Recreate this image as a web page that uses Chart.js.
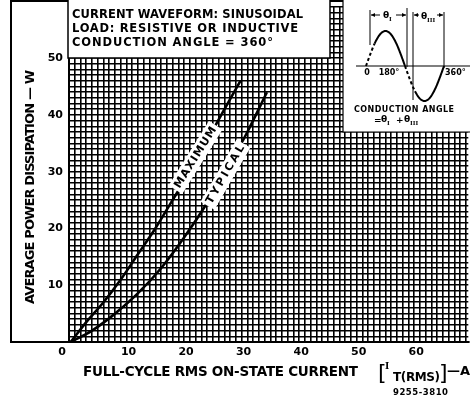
<!DOCTYPE html>
<html>
<head>
<meta charset="utf-8">
<script src="https://cdn.jsdelivr.net/npm/chart.js"></script>
<style>
  html, body { margin: 0; padding: 0; background: #fff; }
  #wrap { width: 470px; height: 402px; }
</style>
</head>
<body>
<div id="wrap"><canvas id="chart" width="470" height="402"></canvas></div>
<script>
// values (A rms, W)
const currentMax = [0.3, 3, 6, 9, 12, 15, 18, 21, 24, 27, 29.8];
const powerMax   = [0, 3.5, 7, 11, 15.5, 20, 25, 30, 35.5, 41, 46];
const currentTyp = [0.3, 4, 8, 12, 16, 20, 24, 28, 31, 34.4];
const powerTyp   = [0, 2, 5, 8.6, 13, 18.4, 24.5, 31.4, 37, 44];

const xTickLabels = [10, 20, 30, 40, 50, 60];
const yTickLabels = [10, 20, 30, 40, 50];
const noteLines = ["CURRENT WAVEFORM: SINUSOIDAL", "LOAD: RESISTIVE OR INDUCTIVE", "CONDUCTION ANGLE = 360°"];

const FONT = "'DejaVu Sans', sans-serif";

// draw text stretched with letter spacing so it covers a given width
function fitText(ctx, text, x, y, width) {
  ctx.letterSpacing = "0px";
  const w = ctx.measureText(text).width;
  const ls = text.length > 1 ? (width - w) / (text.length - 1) : 0;
  ctx.letterSpacing = ls + "px";
  ctx.fillText(text, x, y);
  ctx.letterSpacing = "0px";
}

function theta(ctx, x, y, sub) {
  ctx.font = "bold 9px " + FONT;
  ctx.fillText("θ", x, y);
  ctx.font = "bold 7px 'Liberation Serif', serif";
  ctx.fillText(sub, x + 6, y + 3);
}

const decor = {
  id: "decor",
  afterDraw(chart) {
    const ctx = chart.ctx;
    const xs = chart.scales.x, ys = chart.scales.y;
    ctx.save();
    ctx.fillStyle = "#000";
    ctx.strokeStyle = "#000";

    // outer frame around the axis title strip
    ctx.lineWidth = 2;
    ctx.beginPath();
    ctx.moveTo(470, 1); ctx.lineTo(11, 1); ctx.lineTo(11, 342); ctx.lineTo(69, 342);
    ctx.stroke();

    // condition note box
    ctx.fillStyle = "#fff";
    ctx.fillRect(68, 0, 262, 58);
    ctx.fillStyle = "#000";
    ctx.lineWidth = 1.5;
    ctx.beginPath();
    ctx.moveTo(68, 0); ctx.lineTo(68, 58); ctx.lineTo(330, 58); ctx.lineTo(330, 0);
    ctx.stroke();
    ctx.font = "bold 11.5px " + FONT;
    ctx.textBaseline = "middle";
    ctx.textAlign = "left";
    fitText(ctx, noteLines[0], 72, 15, 231);
    fitText(ctx, noteLines[1], 72, 29, 226);
    fitText(ctx, noteLines[2], 72, 43, 201);

    // inset: waveform sketch
    ctx.fillStyle = "#fff";
    ctx.fillRect(343, 0, 127, 132);
    ctx.fillStyle = "#000";
    ctx.lineWidth = 1.2;
    ctx.beginPath();
    ctx.moveTo(343, 0); ctx.lineTo(343, 132); ctx.lineTo(470, 132);
    ctx.stroke();

    const x0 = 366, per = 78, amp = 35, base = 66;
    ctx.lineWidth = 1.2;
    ctx.beginPath(); ctx.moveTo(356, base); ctx.lineTo(470, base); ctx.stroke();
    const seg = (a0, a1, dashed) => {
      ctx.setLineDash(dashed ? [3, 2.5] : []);
      ctx.beginPath();
      for (let a = a0; a <= a1; a += 2) {
        const px = x0 + a / 360 * per, py = base - amp * Math.sin(a * Math.PI / 180);
        if (a === a0) ctx.moveTo(px, py); else ctx.lineTo(px, py);
      }
      ctx.stroke();
    };
    ctx.lineWidth = 2;
    seg(0, 40, true); seg(40, 180, false); seg(180, 226, true); seg(226, 360, false);
    ctx.setLineDash([]);
    ctx.lineWidth = 1;
    [[370, 10, 45], [407, 8, 67], [413, 12, 100], [444, 12, 68]].forEach(([vx, a, b]) => {
      ctx.beginPath(); ctx.moveTo(vx, a); ctx.lineTo(vx, b); ctx.stroke();
    });
    const arrow = (xa, xb, y) => {
      ctx.beginPath(); ctx.moveTo(xa, y); ctx.lineTo(xb, y); ctx.stroke();
      const d = xb > xa ? 1 : -1;
      ctx.beginPath(); ctx.moveTo(xb, y); ctx.lineTo(xb - 4 * d, y - 2); ctx.lineTo(xb - 4 * d, y + 2); ctx.closePath(); ctx.fill();
    };
    arrow(380, 371, 15); arrow(396, 406, 15);
    arrow(419, 414, 15); arrow(437, 443, 15);
    ctx.textBaseline = "middle";
    theta(ctx, 383, 16, "I");
    theta(ctx, 421, 17, "III");
    ctx.font = "bold 8px " + FONT;
    ctx.textAlign = "center";
    ctx.fillText("0", 367, 73);
    ctx.fillText("180°", 389, 73);
    ctx.textAlign = "left";
    ctx.fillText("360°", 445, 73);
    fitText(ctx, "CONDUCTION ANGLE", 354, 110, 100);
    ctx.font = "bold 9px " + FONT;
    ctx.fillText("=", 374, 121);
    theta(ctx, 381, 120, "I");
    ctx.font = "bold 9px " + FONT;
    ctx.fillText("+", 396, 121);
    theta(ctx, 404, 120, "III");

    // curve labels
    const curveLabel = (text, vx, vy, angle, len) => {
      const px = xs.getPixelForValue(vx), py = ys.getPixelForValue(vy);
      ctx.save();
      ctx.translate(px, py);
      ctx.rotate(angle * Math.PI / 180);
      ctx.fillStyle = "#fff";
      ctx.fillRect(-len / 2 - 3, -8, len + 6, 16);
      ctx.fillStyle = "#000";
      ctx.font = "bold 11px " + FONT;
      ctx.textAlign = "left";
      ctx.textBaseline = "middle";
      fitText(ctx, text, -len / 2, 0, len);
      ctx.restore();
    };
    curveLabel("MAXIMUM", 22.0, 32.5, -58, 70);
    curveLabel("TYPICAL", 27.2, 29.5, -60, 66);

    // y axis title
    ctx.save();
    ctx.translate(31, 304);
    ctx.rotate(-Math.PI / 2);
    ctx.font = "bold 13px " + FONT;
    ctx.textAlign = "left";
    ctx.textBaseline = "middle";
    fitText(ctx, "AVERAGE POWER DISSIPATION — W", 0, 0, 234);
    ctx.restore();

    // origin label sits left of the corner
    ctx.font = "bold 11px " + FONT;
    ctx.textAlign = "center";
    ctx.textBaseline = "middle";
    ctx.fillText("0", 62, 352);

    // x axis title
    ctx.textAlign = "left";
    ctx.font = "bold 13.5px " + FONT;
    fitText(ctx, "FULL-CYCLE RMS ON-STATE CURRENT", 83, 372, 275);
    ctx.font = "22px 'DejaVu Sans', sans-serif";
    ctx.fillText("[", 378, 374);
    ctx.fillText("]", 439, 374);
    ctx.font = "bold 11px 'Liberation Serif', serif";
    ctx.fillText("I", 385, 366);
    ctx.font = "bold 12px " + FONT;
    fitText(ctx, "T(RMS)", 393, 378, 47);
    ctx.font = "bold 13px " + FONT;
    ctx.fillText("—A", 447, 372);
    ctx.font = "bold 8.5px " + FONT;
    fitText(ctx, "9255-3810", 393, 393, 55);
    ctx.restore();
  }
};

const toPoints = (xs, ys) => xs.map((x, i) => ({ x: x, y: ys[i] }));

new Chart(document.getElementById("chart"), {
  type: "line",
  data: {
    datasets: [
      { label: "Maximum", data: toPoints(currentMax, powerMax), borderColor: "#000", borderWidth: 2.6,
        pointRadius: 0, fill: false, cubicInterpolationMode: "monotone" },
      { label: "Typical", data: toPoints(currentTyp, powerTyp), borderColor: "#000", borderWidth: 2.6,
        pointRadius: 0, fill: false, cubicInterpolationMode: "monotone" }
    ]
  },
  options: {
    responsive: false,
    animation: false,
    devicePixelRatio: 1,
    layout: { padding: 0 },
    plugins: { legend: { display: false }, tooltip: { enabled: false }, title: { display: false } },
    scales: {
      x: {
        type: "linear", min: 0, max: 69.4,
        afterFit: (s) => { s.height = 60; },
        ticks: {
          stepSize: 1, autoSkip: false, includeBounds: false, maxRotation: 0, labelOffset: 2, padding: 4,
          color: "#000", font: { family: FONT, size: 11, weight: "bold" },
          callback: (v) => xTickLabels.includes(v) ? String(v) : ""
        },
        grid: { color: "#000", lineWidth: 1.6, drawTicks: false },
        border: { color: "#000", width: 2 }
      },
      y: {
        type: "linear", min: 0, max: 59.2,
        afterFit: (s) => { s.width = 69; },
        ticks: {
          stepSize: 1, autoSkip: false, includeBounds: false, padding: 6,
          color: "#000", font: { family: FONT, size: 11, weight: "bold", lineHeight: 0 },
          callback: (v) => yTickLabels.includes(v) ? String(v) : ""
        },
        grid: { color: "#000", lineWidth: 1.6, drawTicks: false },
        border: { color: "#000", width: 2 }
      }
    }
  },
  plugins: [decor]
});
</script>
</body>
</html>
